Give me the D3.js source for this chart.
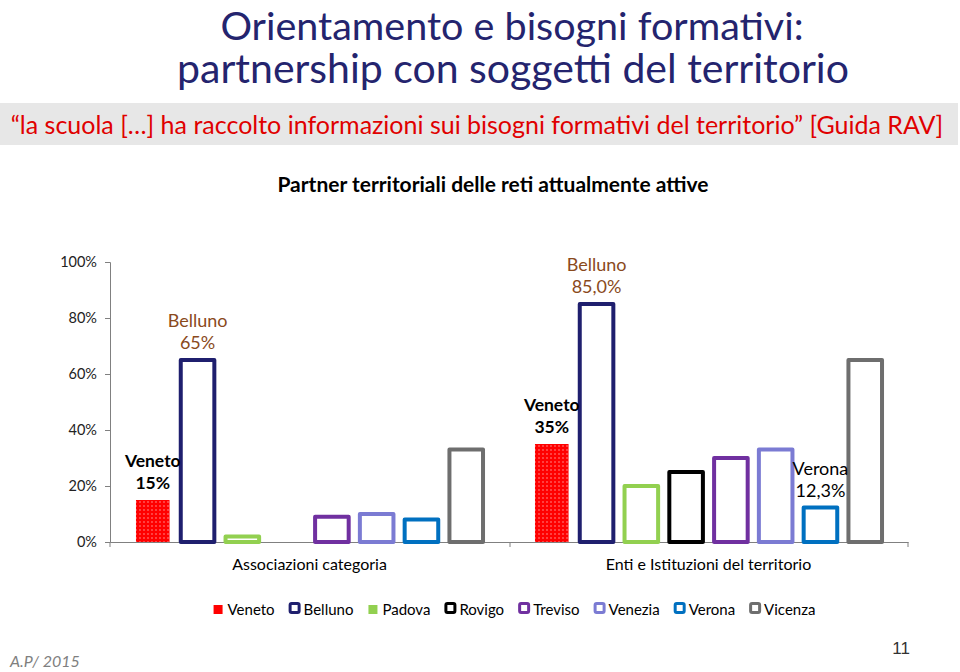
<!DOCTYPE html>
<html>
<head>
<meta charset="utf-8">
<script src="https://cdn.jsdelivr.net/npm/d3@7"></script>
<style>
  body { margin: 0; background: #fff; }
  svg { display: block; font-family: Lato, "Open Sans", sans-serif; }
</style>
</head>
<body>
<div id="chart"></div>
<script>
// data
const categories = ["Associazioni categoria", "Enti e Istituzioni del territorio"];
const series = ["Veneto", "Belluno", "Padova", "Rovigo", "Treviso", "Venezia", "Verona", "Vicenza"];
const associazioni = [0.15, 0.65, 0.02, 0, 0.09, 0.10, 0.08, 0.33];
const enti = [0.35, 0.85, 0.20, 0.25, 0.30, 0.33, 0.123, 0.65];
const yTicks = [0, 0.2, 0.4, 0.6, 0.8, 1];
const colors = ["#ff0000", "#1f1f6e", "#92d050", "#000000", "#7030a0", "#7b7bd3", "#0070c0", "#6e6e6e"];
// labels above some bars: [category index, series index, line1, line2, bold, colour]
const notes = [
  [0, 0, "Veneto", "15%", true, "#000"],
  [0, 1, "Belluno", "65%", false, "#8a4a1c"],
  [1, 0, "Veneto", "35%", true, "#000"],
  [1, 1, "Belluno", "85,0%", false, "#8a4a1c"],
  [1, 6, "Verona", "12,3%", false, "#000"]
];

const width = 960, height = 672;
const svg = d3.select("#chart").append("svg")
  .attr("width", width).attr("height", height);

// dotted red fill for Veneto
const defs = svg.append("defs");
const pat = defs.append("pattern").attr("id", "dots")
  .attr("patternUnits", "userSpaceOnUse").attr("width", 4).attr("height", 4);
pat.append("rect").attr("width", 4).attr("height", 4).attr("fill", "#ff0000");
pat.append("circle").attr("cx", 2).attr("cy", 2).attr("r", 0.7).attr("fill", "#ffb0b0");

// slide titles
svg.append("text").attr("x", 512).attr("y", 39.5).attr("text-anchor", "middle")
  .style("font-size", "39.5px").attr("fill", "#24246e")
  .text("Orientamento e bisogni formativi:");
svg.append("text").attr("x", 513).attr("y", 83).attr("text-anchor", "middle")
  .style("font-size", "41px").attr("fill", "#24246e")
  .text("partnership con soggetti del territorio");

svg.append("rect").attr("x", 0).attr("y", 103).attr("width", 958).attr("height", 42)
  .attr("fill", "#e7e7e7");
svg.append("text").attr("x", 477).attr("y", 134).attr("text-anchor", "middle")
  .style("font-size", "25px").attr("fill", "#e00000")
  .text("“la scuola […] ha raccolto informazioni sui bisogni formativi del territorio”  [Guida RAV]");

svg.append("text").attr("x", 493).attr("y", 192).attr("text-anchor", "middle")
  .style("font-size", "21px").style("font-weight", "bold").attr("fill", "#000")
  .text("Partner territoriali delle reti attualmente attive");

// scales
const x0 = d3.scaleBand().domain(categories).range([110, 908]);
const x1 = d3.scaleBand().domain(series).range([0, x0.bandwidth()])
  .paddingInner(0.25).paddingOuter(0.58);
const y = d3.scaleLinear().domain([0, 1]).range([542, 262]);

// y axis
const yAxis = svg.append("g").attr("transform", "translate(110,0)")
  .call(d3.axisLeft(y).tickValues(yTicks).tickFormat(d3.format(".0%")).tickSize(5).tickPadding(8));
yAxis.select(".domain").attr("stroke", "#808080");
yAxis.selectAll(".tick line").attr("stroke", "#808080");
yAxis.selectAll(".tick text").style("font-size", "14.5px").style("font-family", "Lato, sans-serif").attr("fill", "#222");

// x axis
const xAxis = svg.append("g").attr("transform", "translate(0,542)")
  .call(d3.axisBottom(x0).tickSize(0).tickFormat(""));
xAxis.select(".domain").attr("stroke", "#808080");
[110, 510, 908].forEach(t => {
  xAxis.append("line").attr("x1", t).attr("x2", t).attr("y1", 0).attr("y2", 5).attr("stroke", "#808080");
});
categories.forEach(c => {
  svg.append("text").attr("x", x0(c) + x0.bandwidth() / 2).attr("y", 570)
    .attr("text-anchor", "middle").style("font-size", "16px").attr("fill", "#000").text(c);
});

// bars
const rows = categories.map((c, i) => ({ cat: c, vals: i === 0 ? associazioni : enti }));
rows.forEach(r => {
  const g = svg.append("g").attr("transform", `translate(${x0(r.cat)},0)`);
  r.vals.forEach((v, j) => {
    if (v <= 0) return;
    const s = series[j];
    const bar = g.append("rect")
      .attr("x", x1(s)).attr("width", x1.bandwidth())
      .attr("y", y(v)).attr("height", y(0) - y(v));
    if (j === 0) {
      bar.attr("fill", "url(#dots)");
    } else {
      bar.attr("fill", "#fff").attr("stroke", colors[j]).attr("stroke-width", 4)
        .attr("stroke-linejoin", "round");
    }
  });
});

// labels over bars
notes.forEach(([ci, si, l1, l2, bold, col]) => {
  const vals = ci === 0 ? associazioni : enti;
  const cx = x0(categories[ci]) + x1(series[si]) + x1.bandwidth() / 2;
  const top = y(vals[si]);
  [l1, l2].forEach((t, k) => {
    svg.append("text").attr("x", cx).attr("y", top - 40 + k * 22)
      .attr("text-anchor", "middle").attr("dominant-baseline", "central")
      .style("font-size", bold ? "17.5px" : "18px").style("font-weight", bold ? "bold" : "normal")
      .attr("fill", col).text(t);
  });
});

// legend
const leg = svg.append("g");
let lx = 0;
series.forEach((s, j) => {
  const item = leg.append("g").attr("transform", `translate(${lx},0)`);
  if (j === 0 || j === 2) {
    item.append("rect").attr("x", 1).attr("y", -10).attr("width", 9).attr("height", 9).attr("fill", colors[j]);
  } else {
    item.append("rect").attr("x", 1.5).attr("y", -11.5).attr("width", 9).attr("height", 9)
      .attr("rx", 1.5).attr("fill", "#fff").attr("stroke", colors[j]).attr("stroke-width", 3);
  }
  const t = item.append("text").attr("x", 15).attr("y", 0).style("font-size", "15px").attr("fill", "#000").text(s);
  lx += 15 + t.node().getComputedTextLength() + 14;
});
const legW = lx - 14;
leg.attr("transform", `translate(${514 - legW / 2},615)`);

// footer
svg.append("text").attr("x", 10).attr("y", 667).style("font-size", "16px")
  .style("font-style", "italic").attr("fill", "#7f7f7f").text("A.P/ 2015");
svg.append("text").attr("x", 910).attr("y", 654).attr("text-anchor", "end")
  .style("font-size", "17px").style("font-family", "Liberation Sans, sans-serif").attr("fill", "#333").text("11");
</script>
</body>
</html>
